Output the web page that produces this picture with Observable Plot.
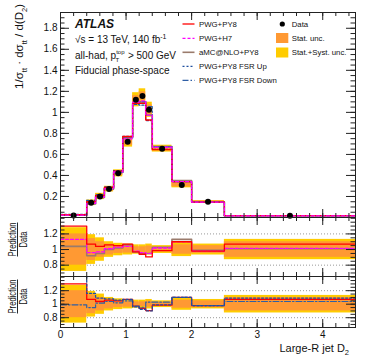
<!DOCTYPE html>
<html><head><meta charset="utf-8">
<script src="https://cdn.jsdelivr.net/npm/d3@7"></script>
<script src="https://cdn.jsdelivr.net/npm/@observablehq/plot@0.6"></script>
<style>
body{margin:0;background:#fff;}
#chart{position:relative;width:374px;height:363px;font-family:"Liberation Sans",Arial,Helvetica,sans-serif;background:#fff;overflow:hidden;}
#chart svg{position:absolute;left:0;}
</style></head><body><div id="chart"></div>
<script>
// ---- data ----
const edges = [0, 0.4, 0.535, 0.67, 0.81, 0.95, 1.1, 1.2, 1.3, 1.4, 1.7, 2.0, 2.5, 4.5];
const dataVals = [0.02, 0.14, 0.20, 0.27, 0.42, 0.72, 1.12, 1.155, 1.025, 0.655, 0.31, 0.15, 0.016];
const statUnc = [0.20, 0.14, 0.10, 0.07, 0.05, 0.045, 0.035, 0.035, 0.045, 0.03, 0.06, 0.05, 0.10];
const totUnc  = [0.28, 0.19, 0.15, 0.10, 0.08, 0.07, 0.06, 0.06, 0.07, 0.05, 0.09, 0.07, 0.13];
const ratioPwgPy8   = [1.30, 1.07, 1.04, 1.06, 1.05, 1.07, 0.97, 0.94, 0.905, 0.985, 1.10, 0.98, 1.07];
const ratioPwgH7    = [1.13, 0.96, 0.97, 1.01, 1.03, 1.04, 0.98, 0.96, 0.95, 1.02, 1.10, 0.98, 1.015];
const ratioAmc      = [1.04, 0.92, 0.95, 1.00, 1.02, 1.06, 0.97, 0.95, 0.95, 1.03, 1.13, 0.99, 1.01];
const ratioFsrUp    = [1.50, 1.16, 1.09, 1.08, 1.06, 1.07, 0.96, 0.925, 0.90, 0.99, 1.10, 0.98, 1.09];
const ratioFsrDown  = [0.99, 0.95, 1.015, 1.04, 1.02, 1.05, 0.97, 0.955, 1.03, 1.03, 1.10, 0.98, 1.04];
const xTickLabels = [0, 1, 2, 3, 4];
const yTickLabels = [0.2, 0.4, 0.6, 0.8, 1, 1.2, 1.4, 1.6, 1.8];
const rTickLabels = [0.8, 1, 1.2];

// ---- styles ----
const C = {
  pwgpy8: {stroke: "#ff0000", strokeWidth: 1.3},
  h7: {stroke: "#ff00ff", strokeWidth: 1.3, strokeDasharray: "3,2"},
  amc: {stroke: "#9a7b6c", strokeWidth: 1.6},
  fsrUp: {stroke: "#1f4f9f", strokeWidth: 1.3, strokeDasharray: "2,2"},
  fsrDown: {stroke: "#2f5fa5", strokeWidth: 1.2, strokeDasharray: "6,2,1.5,2"}
};
const ORANGE = "#ff9933", YELLOW = "#ffcc00", FRAME = "#222";

const W = 374, ML = 60, MR = 19, innerW = W - ML - MR;
const xDomain = [0, 4.5];
const xMajor = xTickLabels;
const xMinor = d3.range(0, 4.5001, 0.2);

const bins = edges.slice(0, -1).map((x1, i) => ({
  x1, x2: edges[i + 1], xc: (x1 + edges[i + 1]) / 2,
  data: dataVals[i], stat: statUnc[i], tot: totUnc[i]
}));
const steps = (vals, mult) => edges.map((e, i) => {
  const k = Math.min(i, vals.length - 1);
  return {x: e, y: vals[k] * (mult ? mult[k] : 1)};
});

function frameTicks(innerH, yMajor, yMinor) {
  const s = {stroke: FRAME, strokeWidth: 1};
  return [
    Plot.ruleX(xMajor, {x: d => d, insetTop: innerH - 8, ...s}),
    Plot.ruleX(xMinor, {x: d => d, insetTop: innerH - 4, ...s}),
    Plot.ruleX(xMajor, {x: d => d, insetBottom: innerH - 8, ...s}),
    Plot.ruleX(xMinor, {x: d => d, insetBottom: innerH - 4, ...s}),
    Plot.ruleY(yMajor, {y: d => d, insetRight: innerW - 9, ...s}),
    Plot.ruleY(yMinor, {y: d => d, insetRight: innerW - 4.5, ...s}),
    Plot.ruleY(yMajor, {y: d => d, insetLeft: innerW - 9, ...s}),
    Plot.ruleY(yMinor, {y: d => d, insetLeft: innerW - 4.5, ...s}),
    Plot.frame({stroke: FRAME, strokeWidth: 1})
  ];
}
const baseStyle = {fontFamily: "Liberation Sans, Arial, sans-serif", fontSize: "10px", background: "transparent", overflow: "visible", color: "#111"};
const chart = document.getElementById("chart");
function place(svg, top) { svg.style.top = top + "px"; chart.appendChild(svg); }

// ---- main panel ----
const mainH = 217, mainMT = 12;
const mainPlot = Plot.plot({
  width: W, height: mainH, marginLeft: ML, marginRight: MR, marginTop: mainMT, marginBottom: 0,
  style: baseStyle,
  x: {domain: xDomain, axis: null},
  y: {domain: [0, 1.95]},
  marks: [
    Plot.rect(bins, {x1: "x1", x2: "x2", y1: d => d.data * (1 - d.tot), y2: d => d.data * (1 + d.tot), fill: YELLOW}),
    Plot.rect(bins, {x1: "x1", x2: "x2", y1: d => d.data * (1 - d.stat), y2: d => d.data * (1 + d.stat), fill: ORANGE}),
    Plot.line(steps(ratioAmc, dataVals), {x: "x", y: "y", curve: "step-after", ...C.amc, clip: true}),
    Plot.line(steps(ratioFsrUp, dataVals), {x: "x", y: "y", curve: "step-after", ...C.fsrUp, clip: true}),
    Plot.line(steps(ratioFsrDown, dataVals), {x: "x", y: "y", curve: "step-after", ...C.fsrDown, clip: true}),
    Plot.line(steps(ratioPwgPy8, dataVals), {x: "x", y: "y", curve: "step-after", ...C.pwgpy8, clip: true}),
    Plot.line(steps(ratioPwgH7, dataVals), {x: "x", y: "y", curve: "step-after", ...C.h7, clip: true}),
    Plot.dot(bins, {x: "xc", y: "data", r: 3, fill: "black", stroke: "none"}),
    ...frameTicks(mainH - mainMT, yTickLabels, d3.range(0.05, 1.95, 0.05)),
    Plot.axisY({ticks: yTickLabels, tickSize: 0, tickPadding: 3, tickFormat: d => String(d), label: null, fontSize: 10})
  ]
});
place(mainPlot, 0);

// ---- ratio panels ----
const rDomain = [0.655, 1.41];
const rMinor = d3.range(0.7, 1.41, 0.05);
function ratioPanel(height, marginBottom, lines, showX) {
  return Plot.plot({
    width: W, height, marginLeft: ML, marginRight: MR, marginTop: 0, marginBottom,
    style: baseStyle,
    x: {domain: xDomain, axis: null},
    y: {domain: rDomain},
    marks: [
      Plot.ruleY(rTickLabels, {y: d => d, stroke: "#999", strokeDasharray: "1,2", strokeWidth: 1}),
      Plot.rect(bins, {x1: "x1", x2: "x2", y1: d => 1 - d.tot, y2: d => 1 + d.tot, fill: YELLOW}),
      Plot.rect(bins, {x1: "x1", x2: "x2", y1: d => 1 - d.stat, y2: d => 1 + d.stat, fill: ORANGE}),
      ...lines.map(([vals, st]) => Plot.line(steps(vals), {x: "x", y: "y", curve: "step-after", ...st, clip: true})),
      ...frameTicks(height - marginBottom, rTickLabels, rMinor),
      Plot.axisY({ticks: rTickLabels, tickSize: 0, tickPadding: 3, tickFormat: d => String(d), label: null, fontSize: 10}),
      ...(showX ? [Plot.axisX({ticks: xTickLabels, tickSize: 0, tickPadding: 3, tickFormat: d => String(d), label: null, fontSize: 10})] : [])
    ]
  });
}
place(ratioPanel(59, 0, [[ratioAmc, C.amc], [ratioPwgH7, C.h7], [ratioPwgPy8, C.pwgpy8]], false), 217);
place(ratioPanel(87, 36, [[ratioPwgPy8, C.pwgpy8], [ratioFsrDown, C.fsrDown], [ratioFsrUp, C.fsrUp]], true), 276);

// ---- overlay texts & legend ----
const ov = d3.select(chart).append("svg").attr("width", W).attr("height", 363)
  .style("top", "0px").style("pointer-events", "none")
  .attr("font-family", "Liberation Sans, Arial, sans-serif").attr("fill", "#111");

// y title
const yt = ov.append("text").attr("transform", "translate(23,4) rotate(-90)").attr("text-anchor", "end").attr("font-size", 11.5);
yt.append("tspan").text("1/σ");
yt.append("tspan").attr("font-size", 7.5).attr("dy", 3.5).text("tt");
yt.append("tspan").attr("dy", -3.5).text(" · dσ");
yt.append("tspan").attr("font-size", 7.5).attr("dy", 3.5).text("tt");
yt.append("tspan").attr("dy", -3.5).text(" / d(D");
yt.append("tspan").attr("font-size", 7.5).attr("dy", 3.5).text("2");
yt.append("tspan").attr("dy", -3.5).text(")");

// ratio titles
[239.5, 296.5].forEach(cy => {
  const g = ov.append("g").attr("transform", `translate(0,${cy})`);
  g.append("text").attr("transform", "translate(15.5,0) rotate(-90)").attr("text-anchor", "middle")
    .attr("font-size", 10.5).attr("textLength", 34).attr("lengthAdjust", "spacingAndGlyphs").text("Prediction");
  g.append("line").attr("x1", 17.5).attr("x2", 17.5).attr("y1", -17).attr("y2", 17).attr("stroke", "#111").attr("stroke-width", 0.9);
  g.append("text").attr("transform", "translate(26.5,0) rotate(-90)").attr("text-anchor", "middle")
    .attr("font-size", 10.5).attr("textLength", 16).attr("lengthAdjust", "spacingAndGlyphs").text("Data");
});

// x title
const xt = ov.append("text").attr("x", 349).attr("y", 352).attr("text-anchor", "end").attr("font-size", 11);
xt.append("tspan").text("Large-R jet D");
xt.append("tspan").attr("font-size", 7.5).attr("dy", 3).text("2");

// ATLAS labels
ov.append("text").attr("x", 75).attr("y", 28).attr("font-size", 12).attr("font-weight", "bold").attr("font-style", "italic").text("ATLAS");
const l1 = ov.append("text").attr("x", 75).attr("y", 43).attr("font-size", 10);
l1.append("tspan").text("√s = 13 TeV, 140 fb");
l1.append("tspan").attr("font-size", 7).attr("dy", -4).text("-1");
const l2 = ov.append("text").attr("x", 75).attr("y", 59).attr("font-size", 10);
l2.append("tspan").text("all-had, p");
l2.append("tspan").attr("font-size", 6).attr("dy", -5).text("top");
l2.append("tspan").attr("font-size", 6).attr("dx", -9).attr("dy", 8).text("T");
l2.append("tspan").attr("dy", -3).attr("dx", 6).text(" > 500 GeV");
ov.append("text").attr("x", 75).attr("y", 74).attr("font-size", 10).text("Fiducial phase-space");

// legend left column
const legL = [["PWG+PY8", C.pwgpy8], ["PWG+H7", C.h7], ["aMC@NLO+PY8", C.amc], ["PWG+PY8 FSR Up", C.fsrUp], ["PWG+PY8 FSR Down", C.fsrDown]];
const legY = [24, 38.3, 52.3, 66.3, 80.3];
legL.forEach(([name, st], i) => {
  ov.append("line").attr("x1", 182.5).attr("x2", 194.5).attr("y1", legY[i]).attr("y2", legY[i])
    .attr("stroke", st.stroke).attr("stroke-width", st.strokeWidth).attr("stroke-dasharray", st.strokeDasharray || null);
  ov.append("text").attr("x", 199).attr("y", legY[i] + 2.8).attr("font-size", 7.8).text(name);
});
// legend right column
ov.append("circle").attr("cx", 282.3).attr("cy", 24).attr("r", 2.6).attr("fill", "black");
ov.append("text").attr("x", 291.7).attr("y", 26.8).attr("font-size", 7.8).text("Data");
ov.append("rect").attr("x", 276).attr("y", 33).attr("width", 12.3).attr("height", 10).attr("fill", ORANGE);
ov.append("text").attr("x", 291.7).attr("y", 41.1).attr("font-size", 7.8).text("Stat. unc.");
ov.append("rect").attr("x", 276).attr("y", 47.5).attr("width", 12.3).attr("height", 10).attr("fill", YELLOW);
ov.append("text").attr("x", 291.7).attr("y", 55.1).attr("font-size", 7.8).text("Stat.+Syst. unc.");
</script></body></html>
